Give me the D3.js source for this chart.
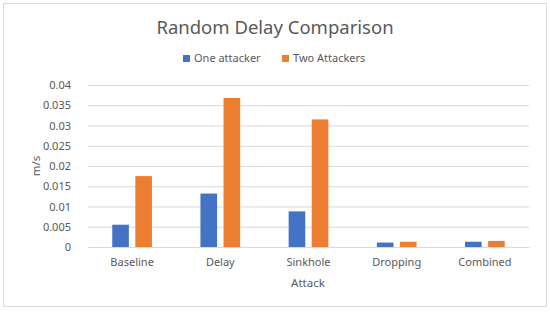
<!DOCTYPE html>
<html><head><meta charset="utf-8">
<script src="https://cdn.jsdelivr.net/npm/d3@7"></script>
<style>body{margin:0;background:#fff}svg{display:block}text{font-family:"Noto Sans","Open Sans",sans-serif;fill:#595959}</style>
</head><body><svg id="c" width="550" height="312"></svg>
<script>
const categories = ["Baseline","Delay","Sinkhole","Dropping","Combined"];
const seriesNames = ["One attacker","Two Attackers"];
const oneAttacker = [0.0055,0.0132,0.0088,0.0011,0.0013];
const twoAttackers = [0.0175,0.0368,0.0315,0.0013,0.0015];
const yTicks = [0,0.005,0.01,0.015,0.02,0.025,0.03,0.035,0.04];
const yTickLabels = ["0","0.005","0.01","0.015","0.02","0.025","0.03","0.035","0.04"];
const colors = ["#4472C4","#ED7D31"];

const svg = d3.select("#c");
svg.append("rect").attr("x",3.5).attr("y",3.5).attr("width",543).attr("height",303)
  .attr("fill","#fff").attr("stroke","#d9d9d9");

const m = {l:88,r:529,t:85,b:247};
const x = d3.scaleBand().domain(categories).range([m.l,m.r]);
const y = d3.scaleLinear().domain([0,0.04]).range([m.b,m.t]);
const x1 = d3.scaleBand().domain(seriesNames).range([0,x.bandwidth()]).paddingInner(0.28).paddingOuter(1.05);

const yAxis = d3.axisLeft(y).tickValues(yTicks).tickFormat((d,i)=>yTickLabels[i]).tickSize(-(m.r-m.l)).tickPadding(17);
const gy = svg.append("g").attr("transform",`translate(${m.l},0)`).call(yAxis);
gy.select(".domain").remove();
gy.selectAll("line").attr("stroke","#d9d9d9");
gy.selectAll("text").style("font-size","11px").attr("fill","#595959");

const data = categories.map((c,i)=>({c, v:[oneAttacker[i],twoAttackers[i]]}));
const g = svg.append("g");
g.selectAll("g").data(data).join("g").attr("transform",d=>`translate(${x(d.c)},0)`)
  .selectAll("rect").data(d=>d.v.map((v,j)=>({s:seriesNames[j],v,j}))).join("rect")
  .attr("x",d=>x1(d.s)).attr("width",x1.bandwidth())
  .attr("y",d=>y(d.v)).attr("height",d=>y(0)-y(d.v)).attr("fill",d=>colors[d.j]);

const xAxis = d3.axisBottom(x).tickSize(0).tickPadding(11);
const gx = svg.append("g").attr("transform",`translate(0,${m.b})`).call(xAxis);
gx.select(".domain").attr("stroke","#d9d9d9");
gx.selectAll("text").style("font-size","11px").attr("fill","#595959");

svg.append("text").attr("x",275).attr("y",34).attr("text-anchor","middle").style("font-size","18.5px").text("Random Delay Comparison");
svg.append("text").attr("x",308).attr("y",287).attr("text-anchor","middle").style("font-size","11.5px").text("Attack");
svg.append("text").attr("transform","translate(40,166) rotate(-90)").attr("text-anchor","middle").style("font-size","11.5px").text("m/s");

const legX = [183,282];
const lg = svg.append("g");
seriesNames.forEach((s,i)=>{
  lg.append("rect").attr("x",legX[i]).attr("y",55).attr("width",7).attr("height",7).attr("fill",colors[i]);
  lg.append("text").attr("x",legX[i]+11).attr("y",62).style("font-size","11px").text(s);
});
</script></body></html>
